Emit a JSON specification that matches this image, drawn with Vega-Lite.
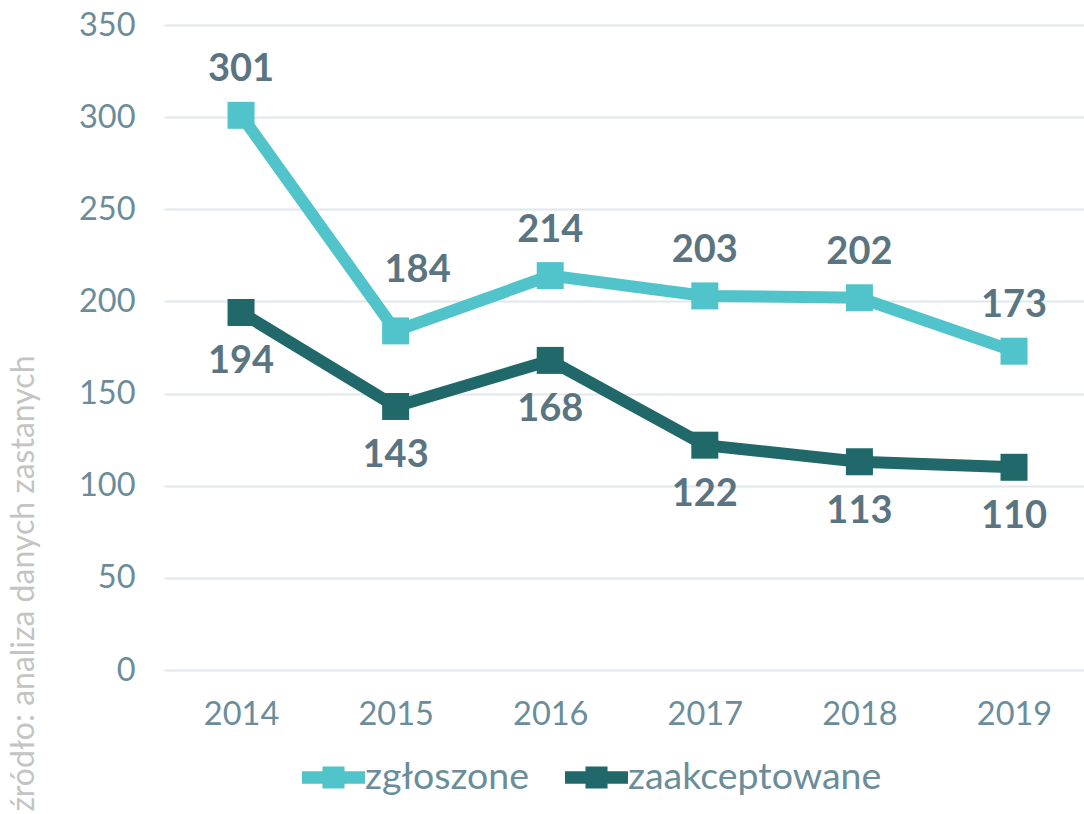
{
  "$schema": "https://vega.github.io/schema/vega-lite/v6.json",
  "width": 920,
  "height": 645,
  "autosize": "none",
  "padding": {"left": 164, "top": 25, "right": 0, "bottom": 144},
  "background": "white",
  "config": {"view": {"stroke": null}, "font": "Lato"},
  "data": {
    "values": [
      {"rok": "2014", "seria": "zgłoszone", "wartosc": 301},
      {"rok": "2015", "seria": "zgłoszone", "wartosc": 184},
      {"rok": "2016", "seria": "zgłoszone", "wartosc": 214},
      {"rok": "2017", "seria": "zgłoszone", "wartosc": 203},
      {"rok": "2018", "seria": "zgłoszone", "wartosc": 202},
      {"rok": "2019", "seria": "zgłoszone", "wartosc": 173},
      {"rok": "2014", "seria": "zaakceptowane", "wartosc": 194},
      {"rok": "2015", "seria": "zaakceptowane", "wartosc": 143},
      {"rok": "2016", "seria": "zaakceptowane", "wartosc": 168},
      {"rok": "2017", "seria": "zaakceptowane", "wartosc": 122},
      {"rok": "2018", "seria": "zaakceptowane", "wartosc": 113},
      {"rok": "2019", "seria": "zaakceptowane", "wartosc": 110}
    ]
  },
  "encoding": {
    "x": {
      "field": "rok", "type": "ordinal",
      "scale": {"type": "point", "padding": 0.4755, "align": 0.524},
      "axis": {"title": null, "labelAngle": 0, "domain": false, "ticks": false, "grid": false,
               "labelFontSize": 32.5, "labelColor": "#6A8D99", "labelPadding": 28}
    },
    "y": {
      "field": "wartosc", "type": "quantitative",
      "scale": {"domain": [0, 350], "nice": false},
      "axis": {"values": [0, 50, 100, 150, 200, 250, 300, 350], "domain": false, "ticks": false,
               "gridColor": "#E1E7EB", "gridWidth": 2, "labelFontSize": 32.5, "labelColor": "#6A8D99",
               "labelPadding": 29,
               "title": "źródło: analiza danych zastanych", "titleFontSize": 32, "titleFontWeight": "normal",
               "titleColor": "#C4C4C4", "titleAngle": -90, "titleX": -131, "titleY": 330,
               "titleAlign": "right", "titleBaseline": "alphabetic", "titleLimit": 1000}
    },
    "color": {
      "field": "seria", "type": "nominal",
      "scale": {"domain": ["zgłoszone", "zaakceptowane"], "range": ["#50C4CA", "#20686A"]},
      "legend": {"title": null, "orient": "none", "legendX": 138, "legendY": 721, "direction": "horizontal",
                 "symbolType": "M-1,-0.2H1V0.2H-1Z M-0.35,-0.35H0.35V0.35H-0.35Z",
                 "symbolSize": 3969, "symbolStrokeWidth": 0,
                 "labelFontSize": 37.5, "labelColor": "#6A8D99", "labelOffset": 0, "labelLimit": 1000,
                 "columnPadding": 35,
                 "encode": {"symbols": {"update": {"fill": {"scale": "color", "field": "value"}, "stroke": {"value": "transparent"}, "opacity": {"value": 1}}}}}
    }
  },
  "layer": [
    {"mark": {"type": "line", "strokeWidth": 12}},
    {"mark": {"type": "point", "shape": "square", "size": 729, "filled": true, "opacity": 1}},
    {
      "transform": [{"filter": "datum.seria == 'zgłoszone' && datum.rok != '2015'"}],
      "mark": {"type": "text", "fontSize": 38, "fontWeight": "bold", "baseline": "middle", "dy": -45},
      "encoding": {"text": {"field": "wartosc", "type": "quantitative"}, "color": {"value": "#5A7581"}}
    },
    {
      "transform": [{"filter": "datum.seria == 'zgłoszone' && datum.rok == '2015'"}],
      "mark": {"type": "text", "fontSize": 38, "fontWeight": "bold", "baseline": "middle", "dy": -60, "dx": 22},
      "encoding": {"text": {"field": "wartosc", "type": "quantitative"}, "color": {"value": "#5A7581"}}
    },
    {
      "transform": [{"filter": "datum.seria == 'zaakceptowane'"}],
      "mark": {"type": "text", "fontSize": 38, "fontWeight": "bold", "baseline": "middle", "dy": 50},
      "encoding": {"text": {"field": "wartosc", "type": "quantitative"}, "color": {"value": "#5A7581"}}
    }
  ]
}
